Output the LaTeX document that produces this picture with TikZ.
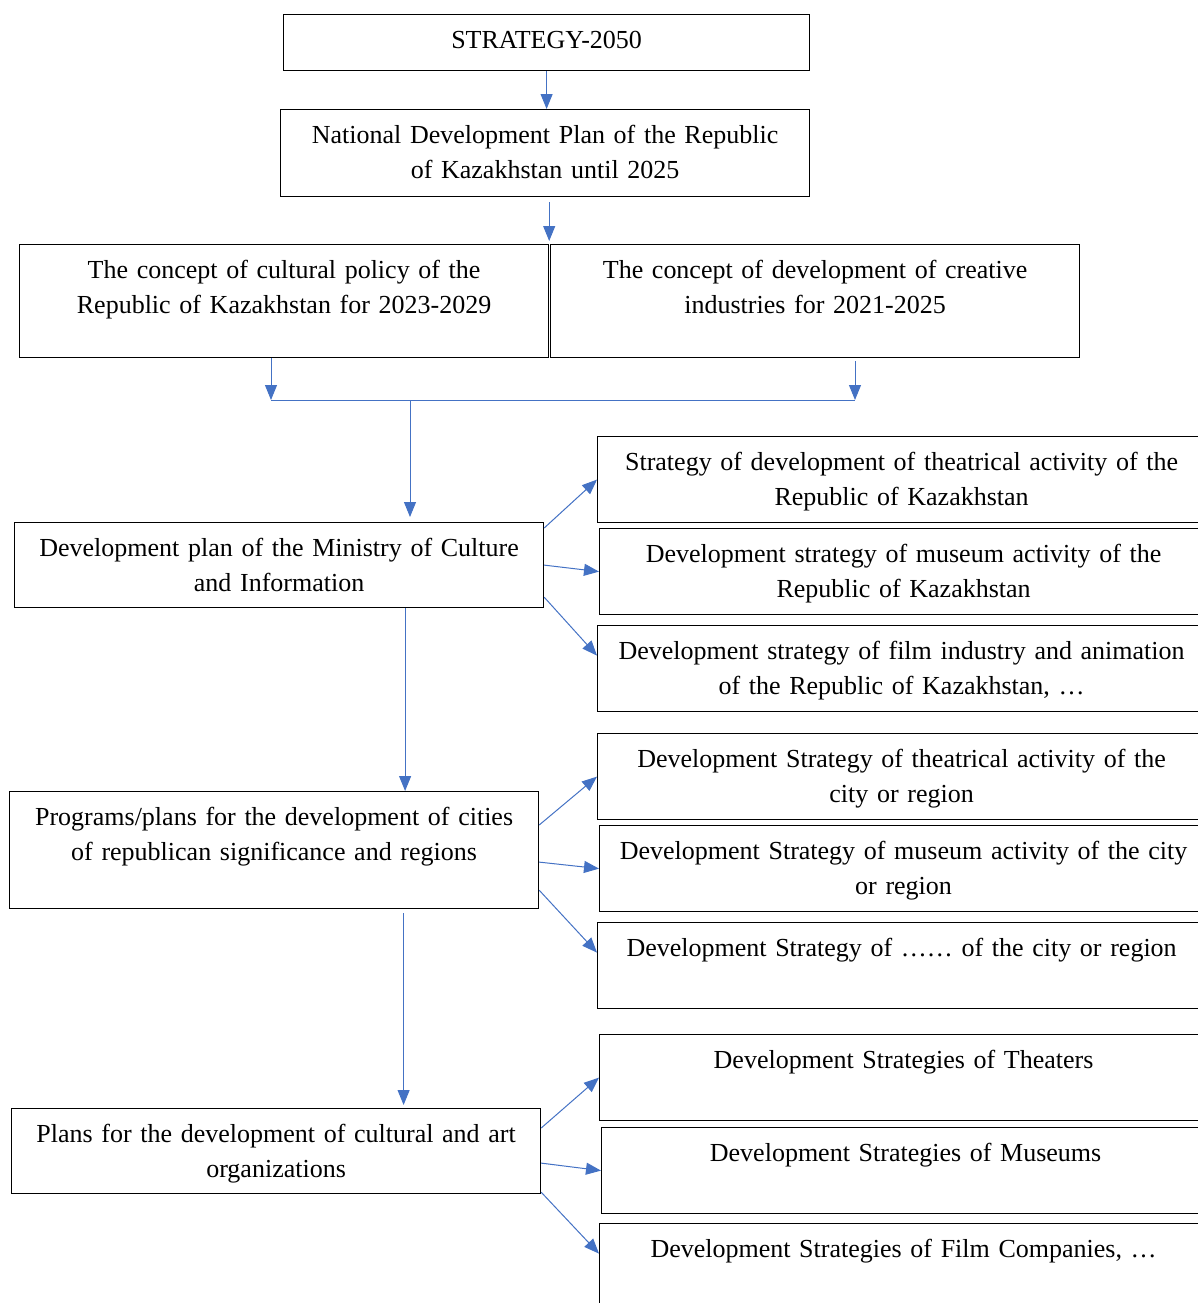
\documentclass[tikz,border=0pt]{standalone}
\usepackage{fontspec}
\setmainfont{Liberation Serif}
\usetikzlibrary{arrows.meta}
\definecolor{linkblue}{HTML}{4472C4}

\begin{document}
\begin{tikzpicture}[
    x=0.5pt, y=-0.5pt,
    font=\fontsize{13}{17.5}\selectfont,
    box/.style={draw, line width=0.6pt, anchor=north west, align=center,
        text width=256.5pt, inner xsep=4pt, inner ysep=0pt,
        text height=17pt, text depth=26pt},
    side/.style={box, text width=296pt},
    link/.style={draw=linkblue, line width=0.5pt},
    arr/.style={link, -{Triangle[length=7.5pt,width=6pt]}},
]
    \clip (0,0) rectangle (1198,1303);
    \node[box, text width=255pt, text depth=11pt] (s2050) at (283,14) {STRATEGY-2050};
    \node[box, text depth=26.5pt] (ndp) at (280,109) {National Development Plan of the Republic\\of Kazakhstan until 2025};
    \node[box, text depth=39.5pt] (cult) at (19,244) {The concept of cultural policy of the\\Republic of Kazakhstan for 2023-2029};
    \node[box, text depth=39.5pt] (crea) at (550,244) {The concept of development of creative\\industries for 2021-2025};
    \node[box, text depth=25.5pt] (mcu) at (14,522) {Development plan of the Ministry of Culture\\and Information};
    \node[box, text depth=41.5pt] (prog) at (9,791) {Programs/plans for the development of cities\\of republican significance and regions};
    \node[box, text depth=25.5pt] (plans) at (11,1108) {Plans for the development of cultural and art\\organizations};

    \node[side] (sA) at (597,436) {Strategy of development of theatrical activity of the\\Republic of Kazakhstan};
    \node[side] (sB) at (599,528) {Development strategy of museum activity of the\\Republic of Kazakhstan};
    \node[side] (sC) at (597,625) {Development strategy of film industry and animation\\of the Republic of Kazakhstan, …};
    \node[side] (sD) at (597,733) {Development Strategy of theatrical activity of the\\city or region};
    \node[side] (sE) at (599,825) {Development Strategy of museum activity of the city\\or region};
    \node[side] (sF) at (597,922) {Development Strategy of …… of the city or region};
    \node[side] (sG) at (599,1034) {Development Strategies of Theaters};
    \node[side] (sH) at (601,1127) {Development Strategies of Museums};
    \node[side] (sI) at (599,1223) {Development Strategies of Film Companies, …};

    \coordinate (mL) at (271,400);
    \coordinate (mR) at (855,400);
    \coordinate (mC) at (410,400);

    \draw[arr] (s2050.south) -- (s2050.south |- ndp.north);
    \draw[arr] ([yshift=-2.5pt]ndp.south -| cult.north east) -- ([yshift=1.5pt]cult.north east);
    \draw[arr] (cult.south -| mL) -- (mL);
    \draw[arr] ([yshift=-1.5pt]crea.south -| mR) -- (mR);
    \draw[link] (mL) -- (mR);
    \draw[arr] (mC) -- ([yshift=2.5pt]mC |- mcu.north);
    \draw[arr] ([xshift=63pt]mcu.south) -- ([xshift=63pt]mcu.south |- prog.north);
    \draw[arr] ([xshift=64.75pt,yshift=-2pt]prog.south) -- ([xshift=64.75pt,yshift=1.5pt]prog.south |- plans.north);

    \draw[arr] ([yshift=-3pt]mcu.north east) -- (sA.west);
    \draw[arr] (mcu.east) -- (sB.west);
    \draw[arr] ([yshift=5.5pt]mcu.south east) -- ([yshift=6.5pt]sC.west);
    \draw[arr] ([yshift=-17pt]prog.north east) -- (sD.west);
    \draw[arr] ([yshift=-6pt]prog.east) -- (sE.west);
    \draw[arr] ([yshift=9.5pt]prog.south east) -- ([yshift=6.5pt]sF.west);
    \draw[arr] ([yshift=-10pt]plans.north east) -- (sG.west);
    \draw[arr] ([yshift=-6pt]plans.east) -- (sH.west);
    \draw[arr] ([yshift=1pt]plans.south east) -- ([yshift=6.5pt]sI.west);
\end{tikzpicture}
\end{document}
